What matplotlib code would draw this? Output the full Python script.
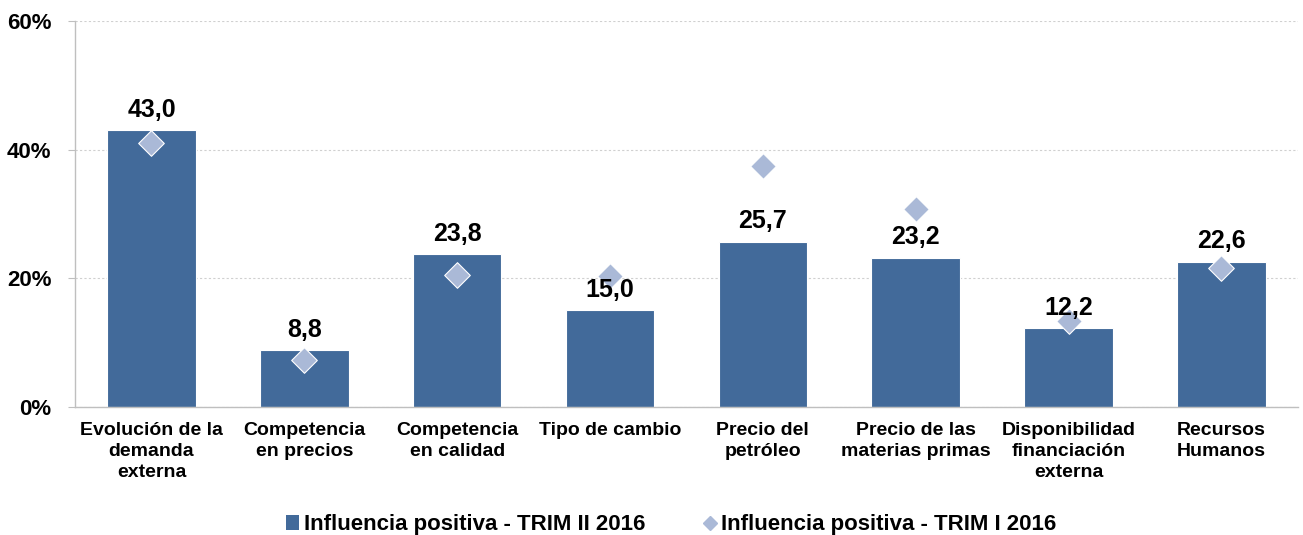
import matplotlib.pyplot as plt
from matplotlib.lines import Line2D
from matplotlib.patches import Patch

categories = ["Evolución de la\ndemanda\nexterna", "Competencia\nen precios",
              "Competencia\nen calidad", "Tipo de cambio", "Precio del\npetróleo",
              "Precio de las\nmaterias primas", "Disponibilidad\nfinanciación\nexterna",
              "Recursos\nHumanos"]
trim2 = [43.0, 8.8, 23.8, 15.0, 25.7, 23.2, 12.2, 22.6]
trim1 = [41.0, 7.3, 20.5, 20.4, 37.5, 30.8, 13.4, 21.6]
yticks = [0, 20, 40, 60]

plt.rcParams['font.family'] = ['Liberation Sans', 'DejaVu Sans']
plt.rcParams['font.weight'] = 'bold'

bar_c = '#426a9a'
dia_c = '#aab9d7'

fig = plt.figure(figsize=(13.03, 5.35), dpi=100)
ax = fig.add_axes([0.0576, 0.2393, 0.9384, 0.7214])

x = range(len(categories))
ax.bar(x, trim2, width=0.58, color=bar_c, edgecolor='white', linewidth=0.8, zorder=2)
ax.scatter(x, trim1, marker='D', s=170, color=dia_c, edgecolor='white', linewidth=0.8, zorder=3)

for i, v in enumerate(trim2):
    ax.annotate(f"{v:.1f}".replace('.', ','), (i, v), xytext=(0, 6), textcoords='offset points',
                ha='center', va='bottom', fontsize=18, fontweight='bold')

ax.set_xlim(-0.5, len(categories) - 0.5)
ax.set_ylim(0, 60)
ax.set_yticks(yticks)
ax.set_yticklabels([f"{t}%" for t in yticks], fontsize=16, fontweight='bold')
ax.set_xticks(list(x))
ax.set_xticklabels(categories, fontsize=14, fontweight='bold', linespacing=1.3)
ax.tick_params(axis='x', length=0, pad=11)
ax.tick_params(axis='y', length=5, color='#bfbfbf', pad=12)
ax.grid(axis='y', color='#d0d0d0', linestyle=(0, (2, 2)), linewidth=0.8, zorder=0)
for s in ['top', 'right']:
    ax.spines[s].set_visible(False)
for s in ['left', 'bottom']:
    ax.spines[s].set_color('#bfbfbf')
    ax.spines[s].set_linewidth(1)

handles = [Patch(facecolor=bar_c, label='Influencia positiva - TRIM II 2016'),
           Line2D([], [], marker='D', linestyle='none', color=dia_c, markersize=7,
                  label='Influencia positiva - TRIM I 2016')]
fig.legend(handles=handles, loc='center', bbox_to_anchor=(0.515, 0.019), ncol=2, frameon=False,
           prop={'size': 16, 'weight': 'bold'}, handlelength=0.6, handletextpad=0.2, columnspacing=2.6)

fig.savefig('out.png', dpi=100)
